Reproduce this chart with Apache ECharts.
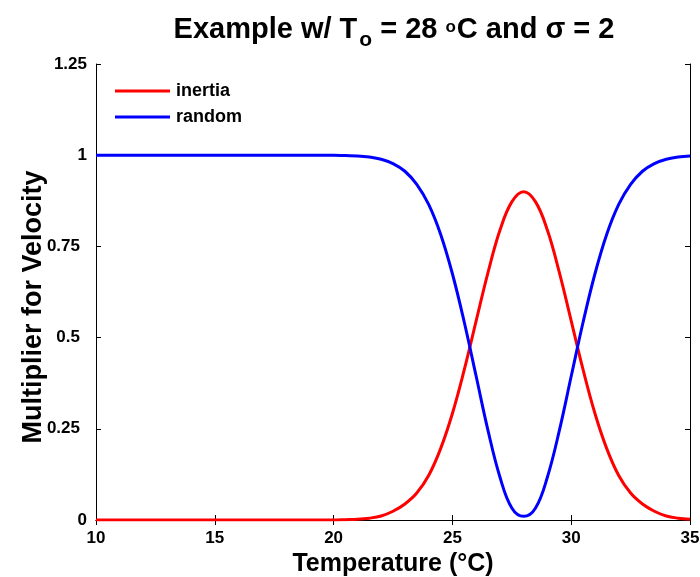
<!DOCTYPE html>
<html><head><meta charset="utf-8">
<script src="https://cdn.jsdelivr.net/npm/echarts@6/dist/echarts.min.js"></script>
<style>html,body{margin:0;padding:0;background:#fff}#c{width:700px;height:577px}</style>
</head><body><div id="c"></div>
<script>
var temps = [10,10.5,11,11.5,12,12.5,13,13.5,14,14.5,15,15.5,16,16.5,17,17.5,18,18.5,19,19.5,20,20.5,21,21.5,22,22.5,23,23.5,24,24.5,25,25.5,26,26.5,27,27.5,28,28.5,29,29.5,30,30.5,31,31.5,32,32.5,33,33.5,34,34.5,35];
var inertia = [0,0,0,0,0,0,0,0,0,0,0,0,0,0,0,0,0,0,0,0,0,0.001,0.002,0.005,0.011,0.024,0.044,0.074,0.122,0.195,0.292,0.412,0.546,0.679,0.794,0.872,0.9,0.872,0.794,0.679,0.546,0.412,0.292,0.195,0.122,0.074,0.044,0.024,0.011,0.005,0.002];
var random = [1,1,1,1,1,1,1,1,1,1,1,1,1,1,1,1,1,1,1,1,1,0.999,0.998,0.995,0.989,0.977,0.956,0.92,0.865,0.784,0.675,0.542,0.394,0.245,0.118,0.033,0.01,0.033,0.118,0.245,0.394,0.542,0.675,0.784,0.865,0.92,0.956,0.977,0.989,0.995,0.998];
var xTicks = [10,15,20,25,30,35];
var yTicks = [0,0.25,0.5,0.75,1,1.25];
var yTitle = 'Multiplier for Velocity';
var xTitle = 'Temperature (°C)';

function pairs(ys){ return temps.map(function(t,i){ return [t, ys[i]]; }); }
var FF = 'Liberation Sans, Arial, sans-serif';
var tickFont = {fontFamily:FF, fontWeight:'bold', fontSize:17, color:'#000'};
var chart = echarts.init(document.getElementById('c'));
chart.setOption({
  animation:false,
  backgroundColor:'#fff',
  title:{
    text:'Example w/ T{sub|o} = 28 {sup|o}C and σ = 2',
    left:389, textAlign:'center', top:7,
    textStyle:{fontFamily:FF, fontSize:29, fontWeight:'bold', color:'#000',
      rich:{
        sub:{fontFamily:FF, fontSize:21, fontWeight:'bold', padding:[20,0,0,2], lineHeight:36},
        sup:{fontFamily:FF, fontSize:17, fontWeight:'bold', padding:[0,1,6,0]}
      }}
  },
  graphic:[{
    type:'text', x:34, y:307, rotation:Math.PI/2,
    style:{text:yTitle, fontFamily:FF, fontWeight:'bold', fontSize:27, fill:'#000', align:'center', verticalAlign:'middle'}
  }],
  legend:{
    left:110, top:77, orient:'vertical', itemGap:8, itemWidth:55, itemHeight:3, icon:'rect',
    textStyle:{fontFamily:FF, fontWeight:'bold', fontSize:18, color:'#000', padding:[0,0,0,1]},
    data:['inertia','random']
  },
  grid:{left:96, right:10, top:64, bottom:57, containLabel:false, outerBoundsMode:'none'},
  xAxis:[{
    type:'value', min:10, max:35, interval:5,
    name:xTitle, nameLocation:'middle', nameGap:15,
    nameTextStyle:{fontFamily:FF, fontWeight:'bold', fontSize:25, color:'#000'},
    axisLine:{lineStyle:{color:'#000', width:1}},
    axisTick:{inside:true, length:5, lineStyle:{color:'#000'}},
    axisLabel:Object.assign({margin:10, formatter:function(v){return xTicks.indexOf(v)>=0?String(v):'';}}, tickFont),
    splitLine:{show:false}
  },{
    type:'value', min:10, max:35, interval:5, position:'top',
    axisLine:{lineStyle:{color:'#000', width:1}},
    axisTick:{inside:true, length:5, lineStyle:{color:'#000'}},
    axisLabel:{show:false}, splitLine:{show:false}
  }],
  yAxis:[{
    type:'value', min:0, max:1.25, interval:0.25,
    axisLine:{lineStyle:{color:'#000', width:1}},
    axisTick:{inside:true, length:5, lineStyle:{color:'#000'}},
    axisLabel:Object.assign({margin:9, formatter:function(v){
      if (yTicks.indexOf(v) < 0) return '';
      return (v > 0 && v < 1) ? '{d|' + v + '}' : String(v);
    }, rich:{d:{fontFamily:FF, fontWeight:'bold', fontSize:17, color:'#000', padding:[0,7,0,0]}}}, tickFont),
    splitLine:{show:false}
  },{
    type:'value', min:0, max:1.25, interval:0.25, position:'right',
    axisLine:{lineStyle:{color:'#000', width:1}},
    axisTick:{inside:true, length:5, lineStyle:{color:'#000'}},
    axisLabel:{show:false}, splitLine:{show:false}
  }],
  series:[
    {name:'inertia', type:'line', smooth:0.4, showSymbol:false, data:pairs(inertia),
     lineStyle:{color:'#ff0000', width:3}, itemStyle:{color:'#ff0000'}},
    {name:'random', type:'line', smooth:0.4, showSymbol:false, data:pairs(random),
     lineStyle:{color:'#0000ff', width:3}, itemStyle:{color:'#0000ff'}}
  ]
});
</script></body></html>
